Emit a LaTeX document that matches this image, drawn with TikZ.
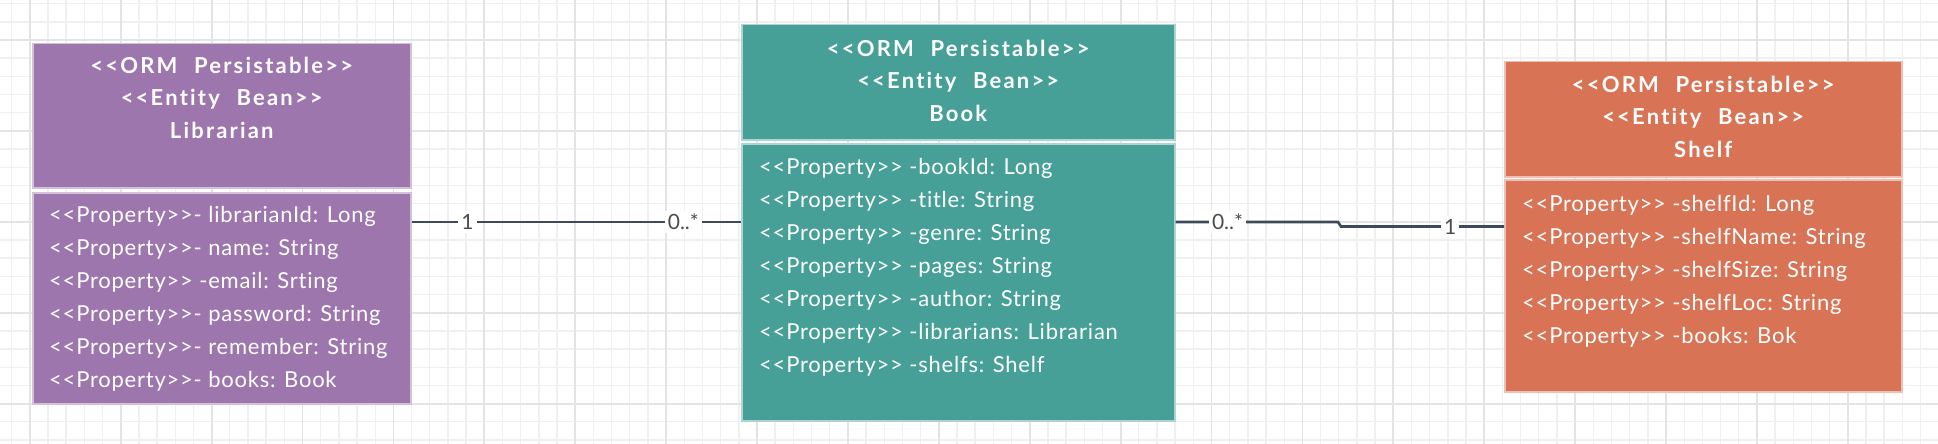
\documentclass[tikz,border=0pt]{standalone}
\usepackage{fontspec}
\setmainfont{Lato}
\newfontfamily\headfont{Lato}[LetterSpace=10,WordSpace=2.2,Ligatures=NoCommon]
\usepackage{tikz}
\usetikzlibrary{calc}
\definecolor{librarianfill}{HTML}{9D76AD}
\definecolor{bookfill}{HTML}{46A097}
\definecolor{shelffill}{HTML}{D97356}
\definecolor{assocline}{HTML}{3D4A5C}
\definecolor{gridminor}{HTML}{F0F0F0}
\definecolor{gridmajor}{HTML}{E4E4E4}
% stereotype in guillemet-free form
\newcommand{\stereo}[1]{<{}<#1>{}>}

\begin{document}
\begin{tikzpicture}[x=1pt,y=-1pt,
  classbox/.style={draw=white!55!#1, fill=#1, line width=1.5pt, inner sep=0pt, anchor=north west},
  headtxt/.style={text=white, align=center, anchor=base, inner sep=0pt,
    font=\headfont\fontsize{22}{32.5}\selectfont\bfseries},
  bodytxt/.style={text=white, align=left, anchor=base west, inner sep=0pt,
    font=\fontsize{22}{33}\selectfont\addfontfeatures{LetterSpace=3.5,Ligatures=NoCommon}},
  assoc/.style={draw=assocline, line width=2.6pt},
  mult/.style={fill=white, text=black!70, inner sep=3pt, font=\fontsize{21}{22}\selectfont}]
\useasboundingbox (0,0) rectangle (1938,444);
% background grid
\foreach \k in {-2,...,106}
  \draw[gridminor, line width=1.4pt] ({29.8+18.18*\k},0) -- ({29.8+18.18*\k},444);
\foreach \k in {-3,...,22}
  \draw[gridminor, line width=1.4pt] (0,{40+18.18*\k}) -- (1938,{40+18.18*\k});
\foreach \k in {0,...,21}
  \draw[gridmajor, line width=1.8pt] ({29.8+90.9*\k},0) -- ({29.8+90.9*\k},444);
\foreach \k in {-1,...,4}
  \draw[gridmajor, line width=1.8pt] (0,{40+90.9*\k}) -- (1938,{40+90.9*\k});

% Librarian
\node[classbox=librarianfill, minimum width=378pt, minimum height=144pt] (libHead) at (32,43) {};
\node[classbox=librarianfill, minimum width=378pt, minimum height=211pt] (libBody) at (32,192) {};
\node[headtxt] (libName) at ([yshift=-95pt]libHead.north) {%
\stereo{ORM Persistable}\\\stereo{Entity Bean}\\Librarian};
\node[bodytxt] (libAttr) at ([shift={(17pt,-195pt)}]libBody.north west) {%
\stereo{Property}- librarianId: Long\\
\stereo{Property}- name: String\\
\stereo{Property} -email: Srting\\
\stereo{Property}- password: String\\
\stereo{Property}- remember: String\\
\stereo{Property}- books: Book};

% Book
\node[classbox=bookfill, minimum width=433pt, minimum height=115pt] (bookHead) at (741,24) {};
\node[classbox=bookfill, minimum width=433pt, minimum height=277pt] (bookBody) at (741,143) {};
\node[headtxt] (bookName) at ([yshift=-97pt]bookHead.north) {%
\stereo{ORM Persistable}\\\stereo{Entity Bean}\\Book};
\node[bodytxt] (bookAttr) at ([shift={(18pt,-229pt)}]bookBody.north west) {%
\stereo{Property} -bookId: Long\\
\stereo{Property} -title: String\\
\stereo{Property} -genre: String\\
\stereo{Property} -pages: String\\
\stereo{Property} -author: String\\
\stereo{Property} -librarians: Librarian\\
\stereo{Property} -shelfs: Shelf};

% Shelf
\node[classbox=shelffill, minimum width=397pt, minimum height=115pt] (shelfHead) at (1504,61) {};
\node[classbox=shelffill, minimum width=397pt, minimum height=212pt] (shelfBody) at (1504,179) {};
\node[headtxt] (shelfName) at ([yshift=-96pt]shelfHead.north) {%
\stereo{ORM Persistable}\\\stereo{Entity Bean}\\Shelf};
\node[bodytxt] (shelfAttr) at ([shift={(18pt,-164pt)}]shelfBody.north west) {%
\stereo{Property} -shelfId: Long\\
\stereo{Property} -shelfName: String\\
\stereo{Property} -shelfSize: String\\
\stereo{Property} -shelfLoc: String\\
\stereo{Property} -books: Bok};

% associations
\coordinate (lnA) at (0,222);
\coordinate (bendA) at (1338,222);
\coordinate (bendB) at (1341,226.5);
\draw[assoc] (libBody.east |- lnA)
  -- node[mult, pos=0.17] (mLib) {1} node[mult, pos=0.825] (mBookL) {0..*}
  (bookBody.west |- lnA);
\draw[assoc] (bookBody.east |- lnA)
  -- node[mult, pos=0.32] (mBookR) {0..*} (bendA) -- (bendB)
  -- node[mult, pos=0.67] (mShelf) {1} (shelfBody.west |- bendB);
\end{tikzpicture}
\end{document}
